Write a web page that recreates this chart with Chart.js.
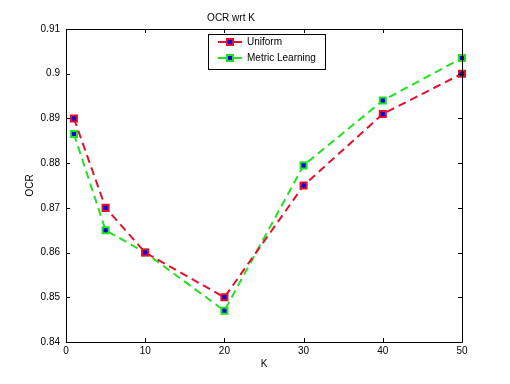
<!DOCTYPE html>
<html>
<head>
<meta charset="utf-8">
<script src="https://cdn.jsdelivr.net/npm/chart.js@4"></script>
<style>
html,body{margin:0;padding:0;background:#fff;}
#wrap{width:510px;height:384px;}
</style>
</head>
<body>
<div id="wrap"><canvas id="c" width="510" height="384"></canvas></div>
<script>
const kValues = [1, 5, 10, 20, 30, 40, 50];
const uniformOCR = [0.890, 0.870, 0.860, 0.850, 0.875, 0.891, 0.900];
const metricOCR = [0.8865, 0.865, 0.860, 0.847, 0.8795, 0.894, 0.9035];
const seriesNames = ['Uniform', 'Metric Learning'];
const xTickValues = [0, 10, 20, 30, 40, 50];
const yTickValues = [0.84, 0.85, 0.86, 0.87, 0.88, 0.89, 0.90, 0.91];
const yTickLabels = ['0.84', '0.85', '0.86', '0.87', '0.88', '0.89', '0.9', '0.91'];
const titleText = 'OCR wrt K';
const xTitle = 'K';
const yTitle = 'OCR';

const RED = '#e3102a';
const GREEN = '#22e022';
const BLUE = '#0000ee';
const FONT = "'Liberation Sans', Arial, Helvetica, sans-serif";

const toPts = arr => arr.map((v, i) => ({x: kValues[i], y: v}));

const boxPlugin = {
  id: 'boxPlugin',
  afterDraw(chart) {
    const ctx = chart.ctx;
    const a = chart.chartArea;
    const xs = chart.scales.x, ys = chart.scales.y;
    ctx.save();
    ctx.strokeStyle = '#000';
    ctx.lineWidth = 1;
    ctx.beginPath();
    ctx.rect(Math.round(a.left) + 0.5, Math.round(a.top) + 0.5, Math.round(a.right - a.left), Math.round(a.bottom - a.top));
    ctx.stroke();
    const tl = 4;
    ctx.beginPath();
    xTickValues.forEach(v => {
      const px = Math.round(xs.getPixelForValue(v)) + 0.5;
      ctx.moveTo(px, a.bottom); ctx.lineTo(px, a.bottom - tl);
      ctx.moveTo(px, a.top); ctx.lineTo(px, a.top + tl);
    });
    yTickValues.forEach(v => {
      const py = Math.round(ys.getPixelForValue(v)) + 0.5;
      ctx.moveTo(a.left, py); ctx.lineTo(a.left + tl, py);
      ctx.moveTo(a.right, py); ctx.lineTo(a.right - tl, py);
    });
    ctx.stroke();

    // legend
    const lx = 208, ly = 34, lw = 117, lh = 35;
    ctx.fillStyle = '#fff';
    ctx.fillRect(lx, ly, lw, lh);
    ctx.strokeStyle = '#000';
    ctx.strokeRect(lx + 0.5, ly + 0.5, lw, lh);
    const cols = [RED, GREEN];
    const rows = [42, 58];
    ctx.font = '10px ' + FONT;
    ctx.textBaseline = 'middle';
    seriesNames.forEach((n, i) => {
      const y = rows[i];
      ctx.strokeStyle = cols[i];
      ctx.lineWidth = 2;
      ctx.beginPath();
      ctx.moveTo(218, y); ctx.lineTo(242, y);
      ctx.stroke();
      ctx.fillStyle = BLUE;
      ctx.fillRect(227, y - 3, 6, 6);
      ctx.strokeRect(227, y - 3, 6, 6);
      ctx.fillStyle = '#000';
      ctx.fillText(n, 247, y);
    });
    ctx.restore();
  }
};

new Chart(document.getElementById('c'), {
  type: 'line',
  data: {
    datasets: [
      {
        label: seriesNames[0],
        data: toPts(uniformOCR),
        borderColor: RED,
        borderWidth: 2,
        borderDash: [8, 5],
        pointStyle: 'rect',
        pointRadius: 4.3,
        pointBorderWidth: 2,
        pointBackgroundColor: BLUE,
        pointBorderColor: RED,
        fill: false,
        tension: 0
      },
      {
        label: seriesNames[1],
        data: toPts(metricOCR),
        borderColor: GREEN,
        borderWidth: 2,
        borderDash: [8, 5],
        pointStyle: 'rect',
        pointRadius: 4.3,
        pointBorderWidth: 2,
        pointBackgroundColor: BLUE,
        pointBorderColor: GREEN,
        fill: false,
        tension: 0
      }
    ]
  },
  options: {
    responsive: false,
    animation: false,
    devicePixelRatio: 1,
    clip: false,
    layout: {padding: {left: 0, right: 48, top: 0, bottom: 0}},
    plugins: {
      legend: {display: false},
      tooltip: {enabled: false},
      title: {
        display: true,
        text: titleText,
        color: '#000',
        font: {family: FONT, size: 10, weight: 'normal'},
        padding: {top: 12, bottom: 5}
      }
    },
    scales: {
      x: {
        type: 'linear',
        min: 0, max: 50,
        grid: {display: false, drawTicks: false},
        border: {display: false},
        afterBuildTicks: s => { s.ticks = xTickValues.map(v => ({value: v})); },
        afterFit: s => { s.height = 42; },
        ticks: {
          color: '#000',
          padding: 3,
          maxRotation: 0,
          font: {family: FONT, size: 10},
          callback: v => String(v)
        },
        title: {
          display: true, text: xTitle, color: '#000',
          font: {family: FONT, size: 10},
          padding: {top: 0, bottom: 14}
        }
      },
      y: {
        type: 'linear',
        min: 0.84, max: 0.91,
        grid: {display: false, drawTicks: false},
        border: {display: false},
        afterBuildTicks: s => { s.ticks = yTickValues.map(v => ({value: v})); },
        afterFit: s => { s.width = 66; },
        ticks: {
          color: '#000',
          padding: 6,
          font: {family: FONT, size: 10},
          callback: (v, i) => yTickLabels[i]
        },
        title: {
          display: true, text: yTitle, color: '#000',
          font: {family: FONT, size: 10},
          padding: {top: 24, bottom: 0}
        }
      }
    }
  },
  plugins: [boxPlugin]
});
</script>
</body>
</html>
